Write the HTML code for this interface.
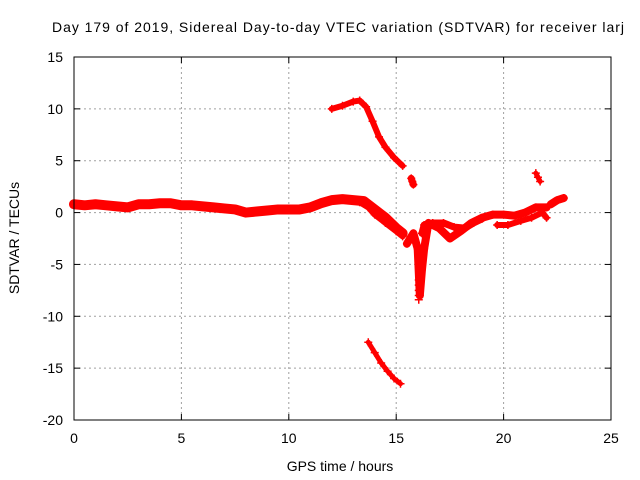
<!DOCTYPE html>
<html><head><meta charset="utf-8"><style>
body{margin:0;background:#fff}
svg{display:block;font-family:"Liberation Sans",sans-serif;font-size:14px}
</style></head><body>
<svg id="chart" width="640" height="480">
<text x="52" y="32" textLength="572" lengthAdjust="spacing">Day 179 of 2019, Sidereal Day-to-day VTEC variation (SDTVAR) for receiver larj</text>
<g id="grid"></g>
<g id="axes"></g>
<g id="marks"></g>
<rect x="74" y="57" width="537" height="363" fill="none" stroke="#000"/>
<text x="340" y="471" text-anchor="middle">GPS time / hours</text>
<text transform="translate(19,238) rotate(-90)" text-anchor="middle">SDTVAR / TECUs</text>
</svg>
<script>
const xTicks=[0,5,10,15,20,25];
const yTicks=[15,10,5,0,-5,-10,-15,-20];
const mainT=[0,0.5,1,1.5,2,2.5,3,3.5,4,4.5,5,5.5,6,6.5,7,7.5,8,8.5,9,9.5,10,10.5,11,11.5,12,12.5,13,13.5,14,14.5,15,15.3];
const mainV=[0.8,0.7,0.8,0.7,0.6,0.5,0.8,0.8,0.9,0.9,0.7,0.7,0.6,0.5,0.4,0.3,0.0,0.1,0.2,0.3,0.3,0.3,0.5,0.9,1.2,1.3,1.2,1.1,0.3,-0.5,-1.5,-2.0];
const branchT=[13.3,13.7,14.0,14.5,15.0,15.3];
const branchV=[1.0,0.5,-0.2,-1.0,-1.8,-2.3];
const arcT=[12.0,12.5,13.0,13.3,13.6,13.9,14.2,14.5,14.9,15.3];
const arcV=[10.0,10.3,10.7,10.8,10.2,8.8,7.3,6.3,5.3,4.5];
const chunkT=[15.7,15.75,15.8];
const chunkV=[3.3,3.0,2.7];
const lowT=[13.7,14.0,14.3,14.6,14.9,15.2];
const lowV=[-12.5,-13.5,-14.5,-15.3,-16.0,-16.5];
const postT=[15.5,15.8,16.0,16.1,16.2,16.3,16.5,17.0,17.5,18.0,18.5,19.0,19.5,20.0,20.5,21.0,21.5,22.0];
const postV=[-3.0,-2.0,-3.5,-8.0,-5.5,-3.5,-1.0,-1.5,-2.5,-1.8,-1.0,-0.5,-0.2,-0.2,-0.3,0.0,0.5,0.5];
const post2T=[16.2,16.3,16.7,17.2,17.7,18.2,18.6,19.0];
const post2V=[-2.0,-1.2,-1.0,-1.0,-1.4,-1.5,-1.0,-0.6];
const post3T=[19.7,20.2,20.8,21.3,21.8,22.0];
const post3V=[-1.2,-1.2,-0.8,-0.5,0.0,-0.5];
const endT=[22.2,22.5,22.8];
const endV=[0.8,1.2,1.4];
const spikeT=[21.5,21.6,21.7];
const spikeV=[3.8,3.4,3.0];
const dipT=[16.05,16.05,16.05,16.05,16.05];
const dipV=[-6.5,-7.0,-7.5,-8.0,-8.4];
const NS='http://www.w3.org/2000/svg';
const X=h=>74+h*537/25;
const Y=v=>57+(15-v)*363/35;
const grid=document.getElementById('grid'),axes=document.getElementById('axes'),marks=document.getElementById('marks');
function mk(t,a,p){const e=document.createElementNS(NS,t);for(const k in a)e.setAttribute(k,a[k]);p.appendChild(e);return e;}
xTicks.forEach(t=>{
 if(t>0&&t<25){const g=mk('line',{x1:X(t),x2:X(t),y1:57,y2:420,stroke:'#a0a0a0','stroke-dasharray':'2,3'},grid);
 
 }
 mk('line',{x1:X(t),x2:X(t),y1:420,y2:414,stroke:'#000'},axes);
 mk('line',{x1:X(t),x2:X(t),y1:57,y2:63,stroke:'#000'},axes);
 const l=mk('text',{x:X(t),y:443,'text-anchor':'middle'},axes);l.textContent=t;
 
 
});
yTicks.forEach(t=>{
 if(t<15&&t>-20){const g=mk('line',{x1:74,x2:611,y1:Y(t),y2:Y(t),stroke:'#a0a0a0','stroke-dasharray':'2,3'},grid);
 
 }
 mk('line',{x1:74,x2:80,y1:Y(t),y2:Y(t),stroke:'#000'},axes);
 mk('line',{x1:605,x2:611,y1:Y(t),y2:Y(t),stroke:'#000'},axes);
 const l=mk('text',{x:63,y:Y(t)+5,'text-anchor':'end'},axes);l.textContent=t;
 
 
});
function series(T,V,w,name){
 const pts=T.map((t,i)=>X(t)+','+Y(V[i])).join(' ');
 const pl=mk('polyline',{points:pts,fill:'none',stroke:'#f00','stroke-width':w,'stroke-linejoin':'round','stroke-linecap':'round'},marks);
 
 
 T.forEach((t,i)=>{const x=X(t),y=Y(V[i]);
  const p=mk('path',{d:`M${x-4},${y}h8M${x},${y-4}v8`,stroke:'#f00','stroke-width':1.5},marks);
  
  });
}
series(mainT,mainV,10,'main-band');
series(branchT,branchV,6,'branch-band');
series(arcT,arcV,6,'upper-arc');
series(chunkT,chunkV,7,'upper-chunk');
series(lowT,lowV,5,'lower-arc');
series(postT,postV,8,'post-series');
series(post2T,post2V,7,'post-series-2');
series(post3T,post3V,6,'post-series-3');
series(endT,endV,8,'end-cluster');
series(spikeT,spikeV,5,'spike-cluster');
series(dipT,dipV,2,'dip-points');
</script>
</body></html>
